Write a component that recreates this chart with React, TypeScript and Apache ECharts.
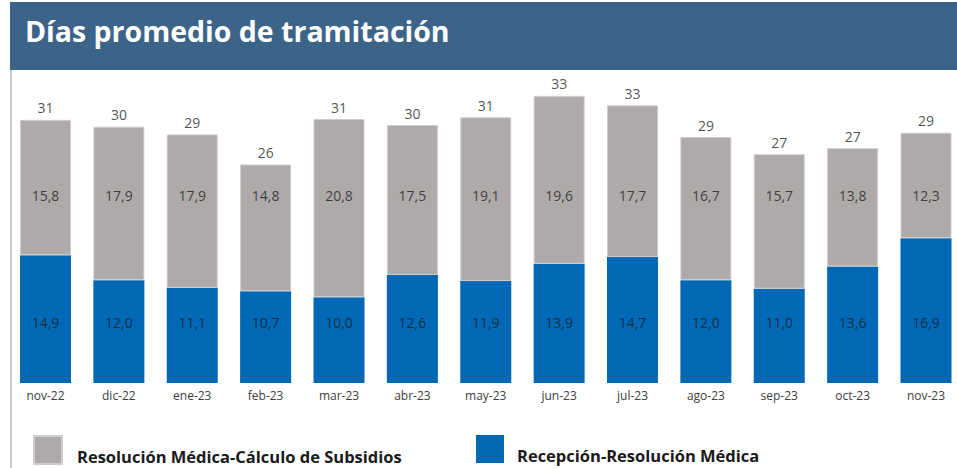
import React, { useEffect, useRef } from "react";
import * as echarts from "echarts";

const categories = ["nov-22", "dic-22", "ene-23", "feb-23", "mar-23", "abr-23", "may-23", "jun-23", "jul-23", "ago-23", "sep-23", "oct-23", "nov-23"];
const recepcion = [14.9, 12.0, 11.1, 10.7, 10.0, 12.6, 11.9, 13.9, 14.7, 12.0, 11.0, 13.6, 16.9];
const calculo = [15.8, 17.9, 17.9, 14.8, 20.8, 17.5, 19.1, 19.6, 17.7, 16.7, 15.7, 13.8, 12.3];
const totals = [31, 30, 29, 26, 31, 30, 31, 33, 33, 29, 27, 27, 29];

const nameGray = "Resolución Médica-Cálculo de Subsidios";
const nameBlue = "Recepción-Resolución Médica";
const GRAY = "#aeaaaa";
const BLUE = "#0068b4";
const FONT = "'Open Sans', 'Noto Sans', sans-serif";
const fmt = (v: number) => v.toFixed(1).replace(".", ",");

export default function App() {
  const ref = useRef<HTMLDivElement>(null);
  useEffect(() => {
    if (!ref.current) return;
    const chart = echarts.init(ref.current, null, { renderer: "svg" });
    const legendText = { fontSize: 16.5, fontWeight: "bold", color: "#1a1a1a", fontFamily: FONT };
    const mkLegend = (name: string, left: number, gap: number) => ({
      data: [{ name, icon: "rect" }],
      left,
      top: 435,
      padding: 0,
      itemWidth: 28,
      itemHeight: 28,
      selectedMode: false,
      formatter: "{t|{name}}",
      textStyle: {
        ...legendText,
        rich: { t: { ...legendText, padding: [12, 0, 0, gap] } },
      },
    });
    chart.setOption({
      animation: false,
      backgroundColor: "#ffffff",
      textStyle: { fontFamily: FONT },
      grid: { left: 45.5, right: 31, top: 83, bottom: 85, containLabel: false },
      xAxis: {
        type: "category",
        data: categories,
        boundaryGap: false,
        axisLine: { show: false },
        axisTick: { show: false },
        axisLabel: { color: "#404040", fontSize: 12, margin: 6, fontFamily: FONT },
      },
      yAxis: { type: "value", min: 0, max: 35, show: false, splitLine: { show: false } },
      legend: [mkLegend(nameGray, 33, 10), mkLegend(nameBlue, 476, 8)],
      series: [
        {
          name: nameBlue,
          type: "bar",
          stack: "t",
          data: recepcion,
          barWidth: 51,
          itemStyle: { color: BLUE },
        },
        {
          name: nameGray,
          type: "bar",
          stack: "t",
          data: calculo,
          barWidth: 51,
          itemStyle: { color: GRAY, borderColor: "#cfcdcd", borderWidth: 1 },
        },
        {
          name: "blueLabels",
          type: "scatter",
          symbolSize: 0,
          data: recepcion.map(() => 7.1),
          label: {
            show: true,
            position: "inside",
            formatter: (p: any) => fmt(recepcion[p.dataIndex]),
            color: "#1f1f1f",
            fontSize: 14,
            fontFamily: FONT,
          },
          z: 5,
        },
        {
          name: "grayLabels",
          type: "scatter",
          symbolSize: 0,
          data: calculo.map(() => 21.9),
          label: {
            show: true,
            position: "inside",
            formatter: (p: any) => fmt(calculo[p.dataIndex]),
            color: "#1f1f1f",
            fontSize: 14,
            fontFamily: FONT,
          },
          z: 5,
        },
        {
          name: "totals",
          type: "scatter",
          symbolSize: 0,
          data: recepcion.map((v, i) => v + calculo[i]),
          label: {
            show: true,
            position: "top",
            distance: 5,
            formatter: (p: any) => String(totals[p.dataIndex]),
            color: "#1f1f1f",
            fontSize: 14,
            fontFamily: FONT,
          },
          z: 5,
        },
      ],
      graphic: [
        { type: "rect", left: 10, top: 2, shape: { width: 947, height: 68 }, style: { fill: "#3c6489" }, z: 10 },
        {
          type: "text",
          left: 25,
          top: 16,
          style: { text: "Días promedio de tramitación", fill: "#ffffff", fontSize: 28.5, fontWeight: "bold", fontFamily: FONT },
          z: 11,
        },
        { type: "line", shape: { x1: 11, y1: 70, x2: 11, y2: 468 }, style: { stroke: "#c5ccd6", lineWidth: 2 }, z: 10 },
      ],
    });
    return () => chart.dispose();
  }, []);
  return <div ref={ref} style={{ width: 957, height: 468, position: "fixed", left: 0, top: 0 }} />;
}
